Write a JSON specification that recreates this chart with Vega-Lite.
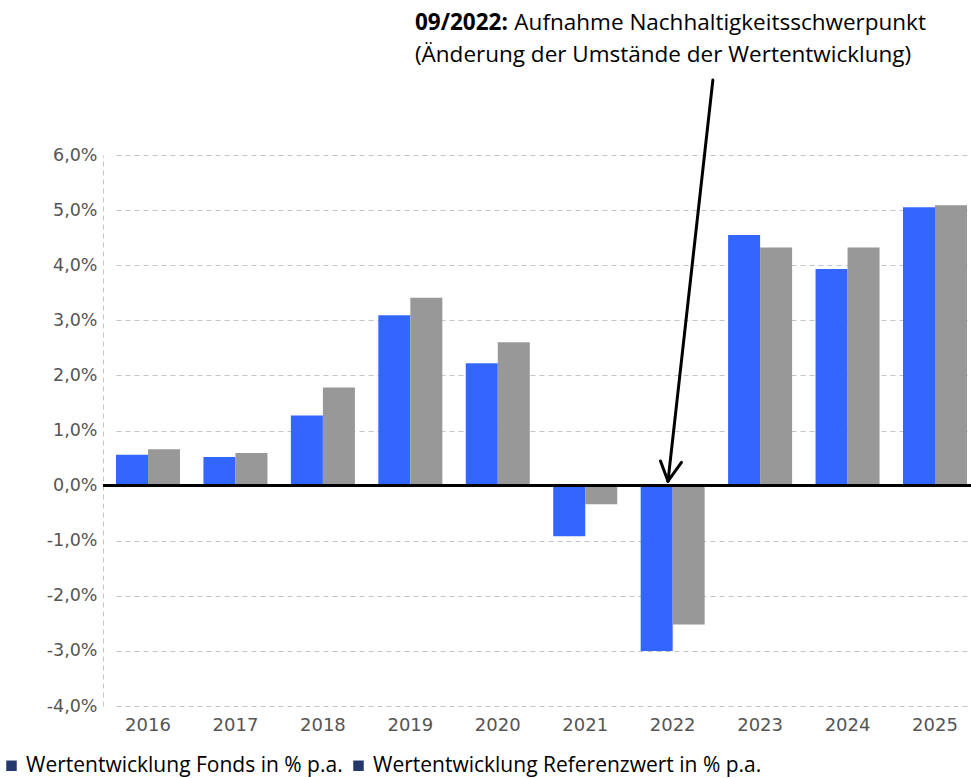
{
  "$schema": "https://vega.github.io/schema/vega-lite/v6.json",
  "width": 868,
  "height": 551,
  "autosize": {"type": "none"},
  "padding": {"left": 103, "top": 155, "right": 0, "bottom": 72},
  "background": "#ffffff",
  "config": {
    "view": {"stroke": null},
    "axis": {"labelFont": "DejaVu Sans", "labelColor": "#555555"}
  },
  "data": {
    "values": [
      {"year": "2016", "series": "Wertentwicklung Fonds in % p.a.", "value": 0.56},
      {"year": "2016", "series": "Wertentwicklung Referenzwert in % p.a.", "value": 0.66},
      {"year": "2017", "series": "Wertentwicklung Fonds in % p.a.", "value": 0.52},
      {"year": "2017", "series": "Wertentwicklung Referenzwert in % p.a.", "value": 0.59},
      {"year": "2018", "series": "Wertentwicklung Fonds in % p.a.", "value": 1.27},
      {"year": "2018", "series": "Wertentwicklung Referenzwert in % p.a.", "value": 1.78},
      {"year": "2019", "series": "Wertentwicklung Fonds in % p.a.", "value": 3.09},
      {"year": "2019", "series": "Wertentwicklung Referenzwert in % p.a.", "value": 3.41},
      {"year": "2020", "series": "Wertentwicklung Fonds in % p.a.", "value": 2.22},
      {"year": "2020", "series": "Wertentwicklung Referenzwert in % p.a.", "value": 2.60},
      {"year": "2021", "series": "Wertentwicklung Fonds in % p.a.", "value": -0.92},
      {"year": "2021", "series": "Wertentwicklung Referenzwert in % p.a.", "value": -0.34},
      {"year": "2022", "series": "Wertentwicklung Fonds in % p.a.", "value": -3.00},
      {"year": "2022", "series": "Wertentwicklung Referenzwert in % p.a.", "value": -2.52},
      {"year": "2023", "series": "Wertentwicklung Fonds in % p.a.", "value": 4.55},
      {"year": "2023", "series": "Wertentwicklung Referenzwert in % p.a.", "value": 4.32},
      {"year": "2024", "series": "Wertentwicklung Fonds in % p.a.", "value": 3.93},
      {"year": "2024", "series": "Wertentwicklung Referenzwert in % p.a.", "value": 4.32},
      {"year": "2025", "series": "Wertentwicklung Fonds in % p.a.", "value": 5.05},
      {"year": "2025", "series": "Wertentwicklung Referenzwert in % p.a.", "value": 5.09}
    ]
  },
  "resolve": {"scale": {"x": "independent", "color": "independent", "fill": "independent"}, "legend": {"color": "independent", "fill": "independent"}},
  "layer": [
    {
      "mark": {"type": "bar"},
      "encoding": {
        "x": {
          "field": "year",
          "type": "nominal",
          "scale": {"range": [13, 864], "paddingInner": 0.268, "paddingOuter": 0},
          "axis": {
            "title": null,
            "labelAngle": 0,
            "domain": false,
            "ticks": false,
            "grid": false,
            "labelFontSize": 18,
            "labelPadding": 10
          }
        },
        "xOffset": {"field": "series", "type": "nominal", "sort": null, "scale": {"paddingInner": 0, "paddingOuter": 0}},
        "y": {
          "field": "value",
          "type": "quantitative",
          "scale": {"domain": [-4, 6], "nice": false, "zero": false},
          "axis": {
            "title": null,
            "values": [-4, -3, -2, -1, 0, 1, 2, 3, 4, 5, 6],
            "labelExpr": "replace(replace(format(datum.value, '.1f'), '.', ','), '\u2212', '-') + '%'",
            "labelFontSize": 17.5,
            "labelPadding": 6,
            "ticks": false,
            "domain": true,
            "domainColor": "#c4c4c4",
            "domainDash": [5, 4],
            "domainWidth": 1,
            "grid": true,
            "gridColor": "#c4c4c4",
            "gridDash": [5, 4],
            "gridWidth": 1
          }
        },
        "color": {
          "field": "series",
          "type": "nominal",
          "sort": null,
          "scale": {
            "domain": ["Wertentwicklung Fonds in % p.a.", "Wertentwicklung Referenzwert in % p.a."],
            "range": ["#3366ff", "#989898"]
          },
          "legend": null
        }
      }
    },
    {
      "data": {
        "values": [
          {"label": "Wertentwicklung Fonds in % p.a."},
          {"label": "Wertentwicklung Referenzwert in % p.a."}
        ]
      },
      "mark": {"type": "bar"},
      "encoding": {
        "y": {"datum": 0},
        "y2": {"datum": 0},
        "fill": {
          "field": "label",
          "type": "nominal",
          "sort": null,
          "scale": {
            "domain": ["Wertentwicklung Fonds in % p.a.", "Wertentwicklung Referenzwert in % p.a."],
            "range": ["#24386b", "#24386b"]
          },
          "legend": {
            "title": null,
            "orient": "none",
            "legendX": -102,
            "legendY": 600,
            "direction": "horizontal",
            "symbolType": "square",
            "symbolSize": 110,
            "symbolStrokeWidth": 0,
            "labelFont": "Open Sans",
            "labelFontSize": 21,
            "labelColor": "#000000",
            "labelLimit": 600,
            "labelOffset": 4,
            "columnPadding": 5,
            "padding": 0
          }
        }
      }
    },
    {
      "mark": {"type": "rule", "color": "#000000", "strokeWidth": 2},
      "encoding": {"y": {"datum": 0}}
    },
    {
      "data": {
        "values": [
          {"x": 2022.46, "y": 7.36, "x2": 2021.947, "y2": 0.08},
          {"x": 2021.861, "y": 0.446, "x2": 2021.947, "y2": 0.08},
          {"x": 2022.101, "y": 0.42, "x2": 2021.947, "y2": 0.08}
        ]
      },
      "mark": {"type": "rule", "color": "#000000", "strokeWidth": 3, "strokeCap": "round"},
      "encoding": {
        "x": {"field": "x", "type": "quantitative", "scale": {"domain": [2015.4854, 2025.4122], "nice": false, "zero": false}, "axis": null},
        "y": {"field": "y", "type": "quantitative"},
        "x2": {"field": "x2"},
        "y2": {"field": "y2"}
      }
    },
    {
      "data": {
        "values": [
          {"x": 2019.053, "y": 8.27, "text": "09/2022:"}
        ]
      },
      "mark": {"type": "text", "align": "left", "baseline": "alphabetic", "font": "Open Sans", "fontSize": 22.5, "fontWeight": "bold", "color": "#000000"},
      "encoding": {
        "x": {"field": "x", "type": "quantitative", "scale": {"domain": [2015.4854, 2025.4122], "nice": false, "zero": false}, "axis": null},
        "y": {"field": "y", "type": "quantitative"},
        "text": {"field": "text"}
      }
    },
    {
      "data": {
        "values": [
          {"x": 2020.19, "y": 8.27, "text": "Aufnahme Nachhaltigkeitsschwerpunkt"},
          {"x": 2019.053, "y": 7.69, "text": "(Änderung der Umstände der Wertentwicklung)"}
        ]
      },
      "mark": {"type": "text", "align": "left", "baseline": "alphabetic", "font": "Open Sans", "fontSize": 22.5, "color": "#000000"},
      "encoding": {
        "x": {"field": "x", "type": "quantitative", "scale": {"domain": [2015.4854, 2025.4122], "nice": false, "zero": false}, "axis": null},
        "y": {"field": "y", "type": "quantitative"},
        "text": {"field": "text"}
      }
    }
  ]
}
